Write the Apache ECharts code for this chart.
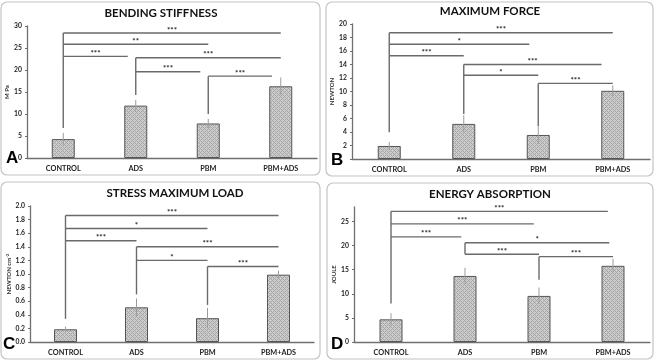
<!DOCTYPE html>
<html>
<head>
<meta charset="utf-8">
<script src="https://cdn.jsdelivr.net/npm/echarts@6/dist/echarts.min.js"></script>
<style>
  html, body { margin: 0; padding: 0; background: #fff; }
  #chart { width: 655px; height: 361px; }
</style>
</head>
<body>
<div id="chart"></div>
<script>
// --- data ---
const categories = ['CONTROL', 'ADS', 'PBM', 'PBM+ADS'];

// A: bending stiffness (M Pa)
const stiffnessMean = [4.3, 11.9, 7.85, 16.3];
const stiffnessSd = [1.4, 1.3, 1.05, 2.0];
const stiffnessTicks = ['0', '5', '10', '15', '20', '25', '30'];
// [from, to, level, stars]
const stiffnessBrackets = [
  [0, 3, 28.4, '***'], [0, 2, 25.85, '**'], [0, 0.89, 23.1, '***'],
  [1, 3, 22.8, '***'], [1, 1.89, 19.6, '***'], [2, 2.88, 18.6, '***']
];
const stiffnessStems = [6.8, 14.3, 10.0];

// B: maximum force (NEWTON)
const forceMean = [1.93, 5.2, 3.56, 10.1];
const forceSd = [0.6, 1.3, 1.3, 0.8];
const forceTicks = ['2', '4', '6', '8', '10', '12', '14', '16', '18', '20'];
const forceBrackets = [
  [0, 3, 18.7, '***'], [0, 1.88, 17.0, '*'], [0, 1, 15.3, '***'],
  [1, 2.85, 14.0, '***'], [1, 2, 12.4, '*'], [2, 3, 11.2, '***']
];
const forceStems = [3.96, 6.68, 4.9];

// C: stress maximum load (NEWTON cm-2)
const stressMean = [0.187, 0.51, 0.35, 0.99];
const stressSd = [0.04, 0.13, 0.15, 0.06];
const stressTicks = ['0.0', '0.2', '0.4', '0.6', '0.8', '1.0', '1.2', '1.4', '1.6', '1.8', '2.0'];
const stressBrackets = [
  [0, 3, 1.86, '***'], [0, 2, 1.67, '*'], [0, 1, 1.49, '***'],
  [1, 3, 1.40, '***'], [1, 2, 1.20, '*'], [2, 3, 1.11, '***']
];
const stressStems = [0.34, 0.70, 0.545];

// D: energy absorption (JOULE)
const energyMean = [4.7, 13.7, 9.56, 15.8];
const energySd = [1.26, 1.7, 1.74, 1.45];
const energyTicks = ['0', '5', '10', '15', '20', '25'];
const energyBrackets = [
  [0, 2.93, 27.1, '***'], [0, 1.93, 24.5, '***'], [0, 0.95, 21.8, '***'],
  [1, 2.95, 20.6, '*'], [1, 2, 18.2, '***'], [2, 3, 17.7, '***']
];
const energyStems = [8.0, 18.2, 12.9];

// --- panel layout ---
const panels = [
  { title: 'BENDING STIFFNESS', letter: 'A', name: 'M Pa', mean: stiffnessMean, sd: stiffnessSd,
    ticks: stiffnessTicks, brackets: stiffnessBrackets, stems: stiffnessStems,
    min: 0, max: 30, interval: 5, digits: 0,
    grid: { left: 27, top: 26, width: 290, height: 132 }, nameGap: 13,
    titleX: 161, titleY: 7, box: [1, 2, 319, 173], letterXY: [6, 158] },
  { title: 'MAXIMUM FORCE', letter: 'B', name: 'NEWTON', mean: forceMean, sd: forceSd,
    ticks: forceTicks, brackets: forceBrackets, stems: forceStems,
    min: 0, max: 20, interval: 2, digits: 0,
    grid: { left: 352, top: 24, width: 298, height: 135 }, nameGap: 14,
    titleX: 490, titleY: 5, box: [326, 2, 327, 174], letterXY: [331, 160] },
  { title: 'STRESS MAXIMUM LOAD', letter: 'C', name: 'NEWTON cm{sup|-2}', mean: stressMean, sd: stressSd,
    ticks: stressTicks, brackets: stressBrackets, stems: stressStems,
    min: 0, max: 2, interval: 0.2, digits: 1,
    grid: { left: 30, top: 206, width: 284, height: 136 }, nameGap: 17,
    titleX: 175, titleY: 187, box: [1, 182, 319, 177], letterXY: [3, 344] },
  { title: 'ENERGY ABSORPTION', letter: 'D', name: 'JOULE', mean: energyMean, sd: energySd,
    ticks: energyTicks, brackets: energyBrackets, stems: energyStems,
    min: 0, max: 28, interval: 5, digits: 0,
    grid: { left: 354, top: 207, width: 296, height: 135 }, nameGap: 15,
    titleX: 490, titleY: 188, box: [327, 183, 326, 176], letterXY: [331, 344] }
];

// gray cross-hatch fill like the original bars
const hatch = document.createElement('canvas');
hatch.width = 4; hatch.height = 4;
const hctx = hatch.getContext('2d');
hctx.fillStyle = '#cdcdcd'; hctx.fillRect(0, 0, 4, 4);
hctx.fillStyle = '#a4a4a4';
[[0, 0], [1, 1], [2, 2], [3, 3], [3, 1], [1, 3]].forEach(([x, y]) => hctx.fillRect(x, y, 1, 1));

const FONT = 'Lato, "Open Sans", sans-serif';

// x position of a (possibly fractional) category index
function catX(api, v, y) {
  const i = Math.floor(v);
  const band = api.size([1, 0])[0];
  return api.coord([i, y])[0] + (v - i) * band;
}

function errorItem(params, api) {
  const x = api.value(0), m = api.value(1), s = api.value(2);
  const hi = api.coord([x, m + s]);
  const lo = api.coord([x, m - s]);
  return {
    type: 'line',
    shape: { x1: hi[0], y1: hi[1], x2: lo[0], y2: lo[1] },
    style: { stroke: '#9c9c9c', lineWidth: 1 }
  };
}

function makeBracketItem(brackets) {
  return function (params, api) {
    const b = brackets[params.dataIndex];
    const y = api.coord([b[0], b[2]])[1];
    const x1 = catX(api, b[0], b[2]);
    const x2 = catX(api, b[1], b[2]);
    return {
      type: 'group',
      children: [
        { type: 'line', shape: { x1: x1, y1: y, x2: x2, y2: y },
          style: { stroke: '#6a6a6a', lineWidth: 1.4 } },
        { type: 'text', style: {
            text: b[3], x: (x1 + x2) / 2, y: y - 3,
            align: 'center', verticalAlign: 'middle',
            fill: '#222', font: 'bold 8px ' + FONT } }
      ]
    };
  };
}

function stemItem(params, api) {
  const x = api.coord([api.value(0), 0])[0];
  const y1 = api.coord([api.value(0), api.value(1)])[1];
  const y2 = api.coord([api.value(0), api.value(2)])[1];
  return {
    type: 'line',
    shape: { x1: x, y1: y1, x2: x, y2: y2 },
    style: { stroke: '#6a6a6a', lineWidth: 1.4 }
  };
}

const chart = echarts.init(document.getElementById('chart'), null, { renderer: 'canvas' });

const grids = [], xAxes = [], yAxes = [], series = [], titles = [], graphics = [];

panels.forEach((p, k) => {
  grids.push(p.grid);
  titles.push({
    text: p.title, left: p.titleX, top: p.titleY, textAlign: 'center', padding: 0,
    textStyle: { fontFamily: FONT, fontSize: 11.5, fontWeight: 'bold', color: '#111' }
  });
  xAxes.push({
    type: 'category', gridIndex: k, data: categories,
    axisLine: { lineStyle: { color: '#6f6f6f', width: 1.3 } },
    axisTick: { show: false },
    axisLabel: { color: '#222', fontSize: 7.3, fontWeight: 'bold', fontFamily: FONT, margin: 7, interval: 0 }
  });
  yAxes.push({
    type: 'value', gridIndex: k, min: p.min, max: p.max, interval: p.interval,
    name: p.name, nameLocation: 'middle', nameGap: p.nameGap, nameRotate: 90,
    nameTextStyle: { fontSize: 6, fontWeight: 'bold', color: '#333', fontFamily: FONT,
      rich: { sup: { fontSize: 4.5, fontWeight: 'bold', color: '#333', fontFamily: FONT, verticalAlign: 'top', padding: [0, 0, 3, 0] } } },
    splitLine: { show: false },
    axisLine: { show: true, lineStyle: { color: '#6f6f6f', width: 1.3 } },
    axisTick: { show: true, length: 2, lineStyle: { color: '#6f6f6f' } },
    axisLabel: {
      color: '#222', fontSize: 6.8, fontWeight: 'bold', fontFamily: FONT, margin: 5,
      showMaxLabel: p.ticks.includes(String(p.max)) || p.digits > 0,
      formatter: v => {
        const s = v.toFixed(p.digits);
        return p.ticks.includes(s) ? s : '';
      }
    }
  });
  series.push({
    type: 'bar', xAxisIndex: k, yAxisIndex: k, data: p.mean, barWidth: 23,
    itemStyle: { color: { image: hatch, repeat: 'repeat' }, borderColor: '#555', borderWidth: 1 },
    z: 2, silent: true
  });
  series.push({
    type: 'custom', xAxisIndex: k, yAxisIndex: k, renderItem: errorItem, z: 3, silent: true,
    data: p.mean.map((m, i) => [i, m, p.sd[i]])
  });
  series.push({
    type: 'custom', xAxisIndex: k, yAxisIndex: k, renderItem: stemItem, z: 4, silent: true,
    data: p.stems.map((base, i) => {
      const top = Math.max(...p.brackets.filter(b => b[0] === i).map(b => b[2]));
      return [i, base, top];
    })
  });
  series.push({
    type: 'custom', xAxisIndex: k, yAxisIndex: k, renderItem: makeBracketItem(p.brackets), z: 4, silent: true,
    data: p.brackets.map(b => [b[0], b[2]])
  });
  graphics.push({
    type: 'rect', silent: true, z: -1,
    shape: { x: p.box[0], y: p.box[1], width: p.box[2], height: p.box[3], r: 6 },
    style: { fill: 'none', stroke: '#c4c4c4', lineWidth: 1.2 }
  });
  graphics.push({
    type: 'text', silent: true, z: 10, x: p.letterXY[0], y: p.letterXY[1],
    style: { text: p.letter, fill: '#000', font: 'bold 17px "Liberation Sans", Arial, sans-serif',
      align: 'left', verticalAlign: 'middle', textAlign: 'left', textVerticalAlign: 'middle' }
  });
});

chart.setOption({
  animation: false,
  backgroundColor: '#fff',
  title: titles,
  grid: grids,
  xAxis: xAxes,
  yAxis: yAxes,
  series: series,
  graphic: graphics
});
</script>
</body>
</html>
